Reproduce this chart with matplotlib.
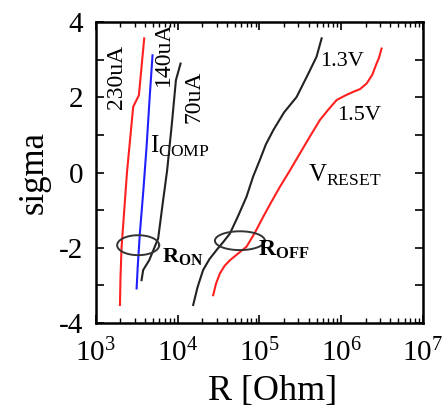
import numpy as np
import matplotlib.pyplot as plt
from matplotlib.ticker import FixedLocator, LogLocator, NullFormatter

plt.rcParams['font.family'] = ['Liberation Serif', 'DejaVu Serif']
plt.rcParams['mathtext.fontset'] = 'custom'
plt.rcParams['mathtext.rm'] = 'Liberation Serif'
plt.rcParams['mathtext.bf'] = 'Liberation Serif:bold'

# compliance current curves (R in Ohm, sigma)
r_230 = [1970, 2000, 2060, 2400, 2860, 3360, 3900]
s_230 = [-3.52, -2.8, -2.0, 0.0, 1.75, 2.06, 3.57]
r_140 = [3150, 3250, 3450, 3800, 4170, 4550, 4930]
s_140 = [-3.08, -2.5, -1.62, -0.5, 0.69, 2.0, 3.12]
r_70 = [3620, 3790, 4490, 5780, 6650, 7450, 8500, 9530, 10860]
s_70 = [-2.86, -2.59, -2.33, -1.75, -0.73, 0.07, 1.3, 2.46, 2.90]

# reset voltage curves
r_13 = [15500, 17500, 20500, 24500, 29900, 36000, 43600, 55000, 69600, 84000,
        101000, 120000, 148000, 200000, 285000, 380000, 500000, 577000]
s_13 = [-3.52, -3.05, -2.59, -2.3, -2.06, -1.85, -1.62, -1.15, -0.64, -0.1,
        0.33, 0.75, 1.13, 1.6, 2.01, 2.55, 3.08, 3.57]
r_15 = [27200, 29500, 32900, 37500, 43600, 55000, 69600, 88000, 111000, 140000,
        178000, 235000, 313000, 420000, 550000, 700000, 880000, 1120000,
        1410000, 1700000, 2050000, 2400000, 2710000, 2900000, 3120000]
s_15 = [-3.26, -2.95, -2.68, -2.48, -2.33, -2.15, -1.97, -1.6, -1.18, -0.78,
        -0.38, 0.05, 0.51, 0.98, 1.40, 1.68, 1.93, 2.05, 2.15, 2.22, 2.37,
        2.6, 2.90, 3.05, 3.30]

# ellipses: centre R, centre sigma, half width (decades), half height
ell_on = (3290, -1.93, 0.257, 0.265)
ell_off = (57700, -1.81, 0.305, 0.25)

fig = plt.figure(figsize=(4.48, 4.11), dpi=100)
ax = fig.add_axes([0.214, 0.214, 0.730, 0.732])

ax.plot(r_230, s_230, color='#ff2020', lw=1.5)
ax.plot(r_140, s_140, color='#2020ff', lw=1.5)
ax.plot(r_70, s_70, color='#222222', lw=1.5)
ax.plot(r_13, s_13, color='#222222', lw=1.5)
ax.plot(r_15, s_15, color='#ff2020', lw=1.5)

t = np.linspace(0, 2 * np.pi, 100)
for rc, sc, a, b in (ell_on, ell_off):
    ax.plot(10 ** (np.log10(rc) + a * np.cos(t)), sc + b * np.sin(t),
            color='#333333', lw=1.4)

ax.set_xscale('log')
ax.set_xlim(1e3, 1e7)
ax.set_ylim(-4, 4)
ax.xaxis.set_major_locator(LogLocator(base=10, numticks=10))
ax.xaxis.set_minor_locator(LogLocator(base=10, subs=np.arange(2, 10), numticks=50))
ax.xaxis.set_minor_formatter(NullFormatter())
ax.yaxis.set_major_locator(FixedLocator(range(-4, 5)))
ax.set_yticklabels(['-4', '', '-2', '', '0', '', '2', '', '4'])
ax.tick_params(which='both', direction='in', top=True, right=True, labelsize=21)
ax.tick_params(which='major', length=6, width=1.2)
ax.tick_params(which='minor', length=3.5, width=1.0)
ax.tick_params(axis='x', which='major', pad=11)
ax.tick_params(axis='y', which='major', pad=9)
for sp in ax.spines.values():
    sp.set_linewidth(1.8)

ax.set_xlabel('R [Ohm]', fontsize=26)
ax.xaxis.set_label_coords(0.54, -0.172)
ax.set_ylabel('sigma', fontsize=25, labelpad=6)

ax.text(1790, 2.55, '230uA', rotation=90, fontsize=17, ha='center', va='center')
ax.text(6790, 3.17, '140uA', rotation=90, fontsize=17, ha='center', va='center')
ax.text(15800, 2.01, '70uA', rotation=90, fontsize=17, ha='center', va='center')
ax.text(4570, 0.69, r'I$_{\mathrm{COMP}}$', fontsize=18, ha='left', va='center')
ax.text(6350, -2.24, r'$\mathbf{R_{ON}}$', fontsize=16, ha='left', va='center')
ax.text(96600, -2.06, r'$\mathbf{R_{OFF}}$', fontsize=17, ha='left', va='center')
ax.text(550000, 2.95, '1.3V', fontsize=16, ha='left', va='center')
ax.text(880000, 1.53, '1.5V', fontsize=16, ha='left', va='center')
ax.text(395000, -0.07, r'V$_{\mathrm{RESET}}$', fontsize=18, ha='left', va='center')

fig.savefig('out.png', dpi=100)
